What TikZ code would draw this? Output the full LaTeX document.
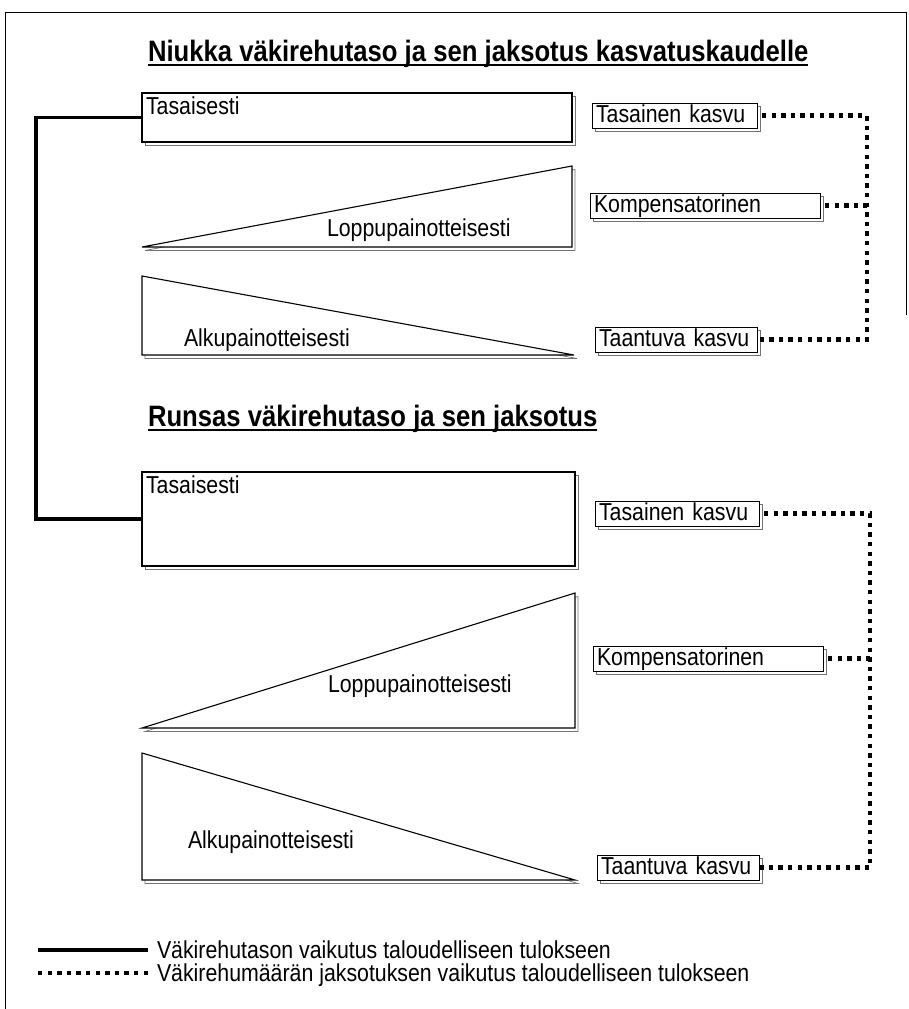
\documentclass[tikz,border=0pt]{standalone}
\usepackage{fontspec}
\setmainfont{Liberation Sans}[FakeStretch=0.87]
\usetikzlibrary{shadows}
\begin{document}
\begin{tikzpicture}[x=1pt,y=-1pt,
  every node/.style={inner sep=0pt, outer sep=0pt},
  txt/.style={font=\fontsize{24.5}{29}\selectfont},
  ttl/.style={font=\fontsize{29.5}{35}\selectfont\bfseries},
  shade/.style={copy shadow={shadow xshift=3pt, shadow yshift=-3.5pt, draw=black!55, line width=0.7pt, fill=white}},
  bigbox/.style={draw, fill=white, line width=1.1pt, anchor=north west, shade},
  smallbox/.style={draw, fill=white, line width=1pt, anchor=north west, inner xsep=4pt, align=left,
    text height=18pt, text depth=5pt, minimum height=25pt, txt, shade},
  tri/.style={draw, fill=white, line width=1.1pt, line join=miter},
  trishadow/.style={draw=black!55, line width=0.7pt, xshift=3pt, yshift=-3.5pt},
  thickline/.style={line width=3.8pt},
  dotline/.style={line width=4.4pt, dash pattern=on 4.4pt off 5.2pt},
  frame/.style={line width=1pt}
]
\useasboundingbox (0,0) rectangle (909,1009);
% frame
\coordinate (f1) at (5,1009);
\coordinate (f2) at (5,12);
\coordinate (f3) at (906,12);
\coordinate (f4) at (906,315);
\draw[frame] (f1) -- (f2) -- (f3) -- (f4);

% titles
\node[ttl, anchor=base west] (ti1) at (148,61) {Niukka väkirehutaso ja sen jaksotus kasvatuskaudelle};
\draw[line width=1.8pt] ([yshift=-4pt]ti1.base west) -- ([yshift=-4pt]ti1.base east);
\node[ttl, anchor=base west] (ti2) at (148,426) {Runsas väkirehutaso ja sen jaksotus};
\draw[line width=1.8pt] ([yshift=-4pt]ti2.base west) -- ([yshift=-4pt]ti2.base east);

% upper section
\node[bigbox, minimum width=430pt, minimum height=49pt] (t1) at (142,93) {};
\node[txt, anchor=base west] (t1l) at (146,114) {Tasaisesti};
\draw[trishadow] (142,247) -- (572,166) -- (572,247) -- cycle;
\draw[tri] (142,247) -- (572,166) -- (572,247) -- cycle;
\node[txt, anchor=base west] (lp1) at (327,236) {Loppupainotteisesti};
\draw[trishadow] (142,276) -- (142,355) -- (574,355) -- cycle;
\draw[tri] (142,276) -- (142,355) -- (574,355) -- cycle;
\node[txt, anchor=base west] (al1) at (184,346) {Alkupainotteisesti};

\node[smallbox, text width=157pt] (tk1) at (592,103) {Tasainen kasvu};
\node[smallbox, text width=222pt] (kp1) at (590,193) {Kompensatorinen};
\node[smallbox, text width=154pt] (ta1) at (595,327) {Taantuva kasvu};

% lower section
\node[bigbox, minimum width=433pt, minimum height=94pt] (t2) at (142,472) {};
\node[txt, anchor=base west] (t2l) at (146,493) {Tasaisesti};
\draw[trishadow] (142,728) -- (575,593) -- (575,728) -- cycle;
\draw[tri] (142,728) -- (575,593) -- (575,728) -- cycle;
\node[txt, anchor=base west] (lp2) at (328,692) {Loppupainotteisesti};
\draw[trishadow] (142,753) -- (142,880) -- (575,880) -- cycle;
\draw[tri] (142,753) -- (142,880) -- (575,880) -- cycle;
\node[txt, anchor=base west] (al2) at (188,848) {Alkupainotteisesti};

\node[smallbox, text width=156pt] (tk2) at (595,501) {Tasainen kasvu};
\node[smallbox, text width=222pt] (kp2) at (593,646) {Kompensatorinen};
\node[smallbox, text width=154pt] (ta2) at (597,855) {Taantuva kasvu};

% thick connector
\coordinate (tl) at (36,0);
\draw[thickline] (t1.west) -- (t1.west -| tl) -- (t2.west -| tl) -- (t2.west);

% dotted connectors
\coordinate (d1) at (867,0);
\draw[dotline, shorten <=5pt] (tk1.east) -- (tk1.east -| d1) -- (ta1.east -| d1) -- (ta1.east);
\draw[dotline, shorten <=5pt] (kp1.east) -- (kp1.east -| d1);
\coordinate (d2) at (870,0);
\draw[dotline, shorten <=5pt] (tk2.east) -- (tk2.east -| d2) -- (ta2.east -| d2) -- (ta2.east);
\draw[dotline, shorten <=5pt] (kp2.east) -- (kp2.east -| d2);

% legend
\coordinate (la) at (38,950);
\coordinate (lb) at (148,950);
\draw[thickline] (la) -- (lb);
\node[txt, anchor=base west] (lt1) at (157,958) {Väkirehutason vaikutus taloudelliseen tulokseen};
\coordinate (lc) at (38,973);
\coordinate (ld) at (148,973);
\draw[dotline] (lc) -- (ld);
\node[txt, anchor=base west] (lt2) at (157,981) {Väkirehumäärän jaksotuksen vaikutus taloudelliseen tulokseen};
\end{tikzpicture}
\end{document}
